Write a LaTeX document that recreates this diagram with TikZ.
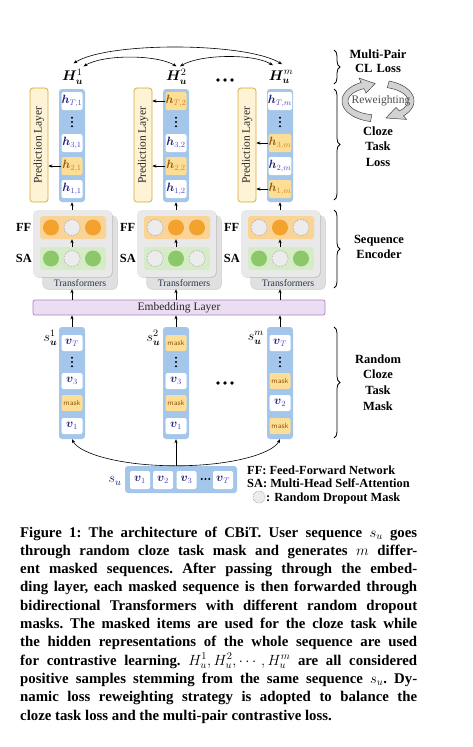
\RequirePackage{fix-cm}
\documentclass[tikz,border=0pt]{standalone}
\usepackage{fontspec}
\setmainfont{Liberation Serif}
\usepackage{amsmath,bm}
\usetikzlibrary{arrows.meta,decorations.pathreplacing,shadows}
\definecolor{colblue}{RGB}{163,198,234}
\definecolor{cellyel}{RGB}{252,222,150}
\definecolor{hnavy}{RGB}{28,30,120}
\definecolor{hsub}{RGB}{80,70,190}
\definecolor{ybrown}{RGB}{150,90,10}
\definecolor{ysub}{RGB}{210,130,30}
\definecolor{predfill}{RGB}{254,243,212}
\definecolor{preddraw}{RGB}{214,168,60}
\definecolor{fffill}{RGB}{250,212,150}
\definecolor{ffcirc}{RGB}{243,163,45}
\definecolor{safill}{RGB}{214,236,200}
\definecolor{sacirc}{RGB}{140,200,106}
\definecolor{dropfill}{RGB}{236,236,236}
\definecolor{embfill}{RGB}{236,222,242}
\definecolor{embdraw}{RGB}{168,134,192}
\definecolor{transtxt}{RGB}{40,52,80}
\newcommand{\hW}[1]{${\color{hnavy}\bm{h}}_{\color{hsub}#1}$}
\newcommand{\hY}[1]{${\color{ybrown}\bm{h}}_{\color{ysub}#1}$}
\newcommand{\vW}[1]{${\color{hnavy}\bm{v}}_{\color{hsub}#1}$}
\newcommand{\mk}{{\sffamily\fontsize{7.5}{8}\selectfont\color{ybrown}mask}}
\newcommand{\Hu}[1]{$\bm{H}_{\bm{u}}^{#1}$}
\newcommand{\su}[1]{$s_{\bm{u}}^{#1}$}
\begin{document}
\begin{tikzpicture}[x=1pt,y=-1pt,
  colbg/.style={fill=colblue, rounded corners=3pt, inner sep=0pt, minimum width=26pt},
  cell/.style={fill=white, rounded corners=2pt, inner sep=0pt, minimum width=21pt, minimum height=18pt, font=\fontsize{12}{13}\selectfont},
  ycell/.style={cell, fill=cellyel},
  icell/.style={cell, minimum height=16pt},
  yicell/.style={icell, fill=cellyel},
  scell/.style={cell, minimum width=20pt, minimum height=18pt},
  predl/.style={draw=preddraw, fill=predfill, line width=0.7pt, rounded corners=3pt, rotate=90, minimum width=114pt, minimum height=18pt, inner sep=0pt, font=\fontsize{11.5}{12}\selectfont, text=black!85},
  backcard/.style={fill=gray!24, rounded corners=5pt, minimum width=75pt, minimum height=74pt, inner sep=0pt, drop shadow={shadow xshift=0.8pt, shadow yshift=-0.8pt, opacity=0.3}},
  frontcard/.style={fill=gray!17, rounded corners=5pt, minimum width=79pt, minimum height=67pt, inner sep=0pt, drop shadow={shadow xshift=0.8pt, shadow yshift=-0.8pt, opacity=0.3}},
  ffbar/.style={fill=fffill, rounded corners=3pt, minimum width=66pt, minimum height=23pt, inner sep=0pt},
  sabar/.style={ffbar, fill=safill},
  ffdot/.style={circle, fill=ffcirc, minimum size=16pt, inner sep=0pt},
  sadot/.style={ffdot, fill=sacirc},
  dropdot/.style={circle, fill=dropfill, draw=gray!80, densely dotted, line width=0.6pt, minimum size=16pt, inner sep=0pt},
  lbl/.style={font=\bfseries\fontsize{12.4}{14}\selectfont, inner sep=0pt},
  rlbl/.style={font=\bfseries\fontsize{12.5}{15.5}\selectfont, text width=90pt, align=center, inner sep=0pt, anchor=base},
  hlab/.style={font=\fontsize{14}{16}\selectfont, inner sep=0pt},
  trtext/.style={font=\fontsize{9.8}{11}\selectfont, text=transtxt, inner sep=0pt},
  emb/.style={draw=embdraw, fill=embfill, line width=0.7pt, rounded corners=2pt, minimum width=292pt, minimum height=15pt, inner sep=0pt, font=\fontsize{11.5}{12}\selectfont, text=black!85},
  arr/.style={-{Stealth[length=4pt,width=3.2pt]}, line width=0.6pt},
  darr/.style={{Stealth[length=4pt,width=3.2pt]}-{Stealth[length=4pt,width=3.2pt]}, line width=0.6pt},
  brc/.style={decorate, decoration={brace, amplitude=6pt}, line width=0.8pt},
  rib/.style={fill=gray!35, draw=gray!55!black, line width=0.5pt},
  vdots3/.pic={\fill (0,-4.3) circle (1.1pt) (0,0) circle (1.1pt) (0,4.3) circle (1.1pt);},
  hdots3/.pic={\fill (-7,0) circle (1.9pt) (0,0) circle (1.9pt) (7,0) circle (1.9pt);},
  sdots3/.pic={\fill (-3.8,0) circle (1.1pt) (0,0) circle (1.1pt) (3.8,0) circle (1.1pt);}
]
\useasboundingbox (0,0) rectangle (472,747);
\fill[white] (0,0) rectangle (472,747);

% ---------- common column structure ----------
\foreach \i/\cx in {1/72,2/176,3/280}{
  \node[colbg, minimum height=113pt] (hc\i) at (\cx,145.5) {};
  \node[predl] (pl\i) at (\cx-33,145) {Prediction Layer};
  \node[colbg, minimum height=112pt] (ic\i) at (\cx,383) {};
  \node[backcard] (bk\i) at (\cx+7.5,252) {};
  \node[frontcard] (fr\i) at (\cx+0.5,243.5) {};
  \node[ffbar] (ff\i) at (\cx+1,227.5) {};
  \node[sabar] (sa\i) at (\cx+1,258.5) {};
  \node[trtext] (tr\i) at (\cx+8,283.5) {Transformers};
  \node[lbl, anchor=east] (ffl\i) at (\cx-40.5,227.5) {FF};
  \node[lbl, anchor=east] (sal\i) at (\cx-40,258.5) {SA};
  \draw[arr] (sa\i.north -| hc\i) -- (ff\i.south -| hc\i);
  \pic at (\cx,122) {vdots3};
  \pic at (\cx,362) {vdots3};
}

% ---------- dropout circles ----------
\foreach \k/\cx/\y/\a/\b/\c in {1/72/227.5/ffdot/dropdot/ffdot, 2/72/258.5/sadot/dropdot/sadot,
  3/176/227.5/dropdot/ffdot/ffdot, 4/176/258.5/dropdot/sadot/dropdot,
  5/280/227.5/dropdot/ffdot/dropdot, 6/280/258.5/sadot/dropdot/sadot}{
  \node[\a] (cr\k a) at (\cx-21,\y) {};
  \node[\b] (cr\k b) at (\cx,\y) {};
  \node[\c] (cr\k c) at (\cx+21,\y) {};
}

% ---------- hidden representation cells ----------
\node[cell]  (h1a) at (72,101) {\hW{T,1}};
\node[cell]  (h1c) at (72,143) {\hW{3,1}};
\node[ycell] (h1d) at (72,166) {\hY{2,1}};
\node[cell]  (h1e) at (72,189) {\hW{1,1}};
\node[ycell] (h2a) at (176,101) {\hY{T,2}};
\node[cell]  (h2c) at (176,143) {\hW{3,2}};
\node[ycell] (h2d) at (176,166) {\hY{2,2}};
\node[cell]  (h2e) at (176,189) {\hW{1,2}};
\node[cell]  (h3a) at (280,101) {\hW{T,m}};
\node[ycell] (h3c) at (280,143) {\hY{3,m}};
\node[cell]  (h3d) at (280,166) {\hW{2,m}};
\node[ycell] (h3e) at (280,189) {\hY{1,m}};

\draw[arr] (h1d.west) -- (h1d -| pl1.south);
\draw[arr] (h2a.west) -- (h2a -| pl2.south);
\draw[arr] (h2d.west) -- (h2d -| pl2.south);
\draw[arr] (h3c.west) -- (h3c -| pl3.south);
\draw[arr] (h3e.west) -- (h3e -| pl3.south);

% ---------- input cells ----------
\node[icell]  (v1a) at (72,343) {\vW{T}};
\node[icell]  (v1c) at (72,381) {\vW{3}};
\node[yicell] (v1d) at (72,403) {\mk};
\node[icell]  (v1e) at (72,426) {\vW{1}};
\node[yicell] (v2a) at (176,343) {\mk};
\node[icell]  (v2c) at (176,381) {\vW{3}};
\node[yicell] (v2d) at (176,403) {\mk};
\node[icell]  (v2e) at (176,426) {\vW{1}};
\node[icell]  (v3a) at (280,343) {\vW{T}};
\node[yicell] (v3c) at (280,381) {\mk};
\node[icell]  (v3d) at (280,403) {\vW{2}};
\node[yicell] (v3e) at (280,426) {\mk};

\node[hlab, anchor=east] (s1) at (57.5,338) {\su{1}};
\node[hlab, anchor=east] (s2) at (160.5,338) {\su{2}};
\node[hlab, anchor=east] (s3) at (264,338) {\su{m}};

% ---------- embedding layer ----------
\node[emb] (emb) at (179,307.5) {Embedding Layer};
\foreach \i in {1,2,3}{
  \draw[arr] (ic\i.north) -- (ic\i.north |- emb.south);
  \draw[arr] (hc\i |- emb.north) -- (hc\i |- bk\i.south);
  \draw[arr] (hc\i |- fr\i.north) -- (hc\i.south);
}

% ---------- H labels and contrastive arcs ----------
\node[hlab] (H1) at (72.5,77) {\Hu{1}};
\node[hlab] (H2) at (176.5,77) {\Hu{2}};
\node[hlab] (H3) at (281,77) {\Hu{m}};
\pic at (225,80) {hdots3};
\pic at (225,383) {hdots3};
\draw[darr] ([xshift=1pt,yshift=6pt]H1.north) .. controls +(35,-22) and +(-35,-22) .. ([xshift=1pt,yshift=6pt]H3.north);
\draw[darr] ([xshift=11pt,yshift=3pt]H1.north) .. controls +(20,-12) and +(-20,-12) .. ([xshift=0pt,yshift=3pt]H2.north);
\draw[darr] ([xshift=3.5pt,yshift=3pt]H2.north) .. controls +(20,-12) and +(-20,-12) .. ([xshift=-8pt,yshift=5pt]H3.north);

% ---------- s_u row ----------
\node[fill=colblue, rounded corners=3pt, minimum width=112pt, minimum height=27pt, inner sep=0pt] (surow) at (181,479.5) {};
\node[scell] (u1) at (140,480) {\vW{1}};
\node[scell] (u2) at (163,480) {\vW{2}};
\node[scell] (u3) at (186.5,480) {\vW{3}};
\pic at (205.5,479) {sdots3};
\node[scell] (uT) at (223,480) {\vW{T}};
\node[hlab, text=hnavy] (sul) at (115,481) {$s_u$};
\coordinate (J) at (surow.north -| ic2);
\draw[arr] (J) -- (ic2.south);
\draw[arr] (J) .. controls +(-57,0) and +(7,14) .. (ic1.south);
\draw[arr] (J) .. controls +(57,0) and +(-7,14) .. (ic3.south);

% ---------- legend ----------
\node[lbl, anchor=base west] (lg1) at (247,474) {FF: Feed-Forward Network};
\node[lbl, anchor=base west] (lg2) at (247,487.5) {SA: Multi-Head Self-Attention};
\node[dropdot, minimum size=12pt] (lgc) at (259,497) {};
\node[lbl, anchor=base west] (lg3) at (266,501) {: Random Dropout Mask};

% ---------- braces and right labels ----------
\coordinate (b1a) at (334,50);  \coordinate (b1b) at (334,84);
\coordinate (b2a) at (334,89);  \coordinate (b2b) at (334,200);
\coordinate (b3a) at (334,210); \coordinate (b3b) at (334,288);
\coordinate (b4a) at (334,327); \coordinate (b4b) at (334,438);
\draw[brc] (b1a) -- (b1b);
\draw[brc] (b2a) -- (b2b);
\draw[brc] (b3a) -- (b3b);
\draw[brc] (b4a) -- (b4b);
\node[rlbl, font=\bfseries\fontsize{12.5}{14.7}\selectfont] (lcl) at (378,58) {Multi-Pair\\CL Loss};
\node[rlbl] (lct) at (378,135) {Cloze\\Task\\Loss};
\node[rlbl, font=\bfseries\fontsize{12.5}{15}\selectfont] (lse) at (379,243.5) {Sequence\\Encoder};
\node[rlbl, font=\bfseries\fontsize{12.5}{15.7}\selectfont] (lrm) at (378,363) {Random\\Cloze\\Task\\Mask};

% ---------- reweighting cycle ----------
\filldraw[rib] plot[domain=258:118, samples=40] ({378+36*cos(\x)},{101-21*sin(\x)})
  -- ({378+40.5*cos(118)},{101-26*sin(118)})
  -- ({378+33*cos(95)},{101-17.5*sin(95)})
  -- ({378+25.5*cos(118)},{101-9*sin(118)})
  -- plot[domain=118:258, samples=40] ({378+30*cos(\x)},{101-14*sin(\x)})
  -- cycle;
\filldraw[rib] plot[domain=72:-45, samples=40] ({378+36*cos(\x)},{101-21*sin(\x)})
  -- ({378+40.5*cos(-45)},{101-26*sin(-45)})
  -- ({378+33*cos(-76)},{101-17.5*sin(-76)})
  -- ({378+25.5*cos(-45)},{101-9*sin(-45)})
  -- plot[domain=-45:72, samples=40] ({378+30*cos(\x)},{101-14*sin(\x)})
  -- cycle;
\node[font=\fontsize{11.5}{12}\selectfont, text=black!70, inner sep=0pt] (rw) at (381,101) {Reweighting};

% ---------- caption ----------
\node[anchor=base west, text width=397pt, align=justify, inner sep=0pt,
      font=\bfseries\fontsize{14.8}{18.3}\selectfont] (cap) at (20,537)
{\frenchspacing\hyphenpenalty=10000\exhyphenpenalty=10000\tolerance=10000
Figure 1: The architecture of CBiT. User sequence $s_u$ goes\linebreak
through random cloze task mask and generates $m$ differ-\linebreak
ent masked sequences. After passing through the embed-\linebreak
ding layer, each masked sequence is then forwarded through\linebreak
bidirectional Transformers with different random dropout\linebreak
masks. The masked items are used for the cloze task while\linebreak
the hidden representations of the whole sequence are used\linebreak
for contrastive learning. $H_u^1, H_u^2, \cdots, H_u^m$ are all considered\linebreak
positive samples stemming from the same sequence $s_u$. Dy-\linebreak
namic loss reweighting strategy is adopted to balance the\linebreak
cloze task loss and the multi-pair contrastive loss.};
\end{tikzpicture}
\end{document}
